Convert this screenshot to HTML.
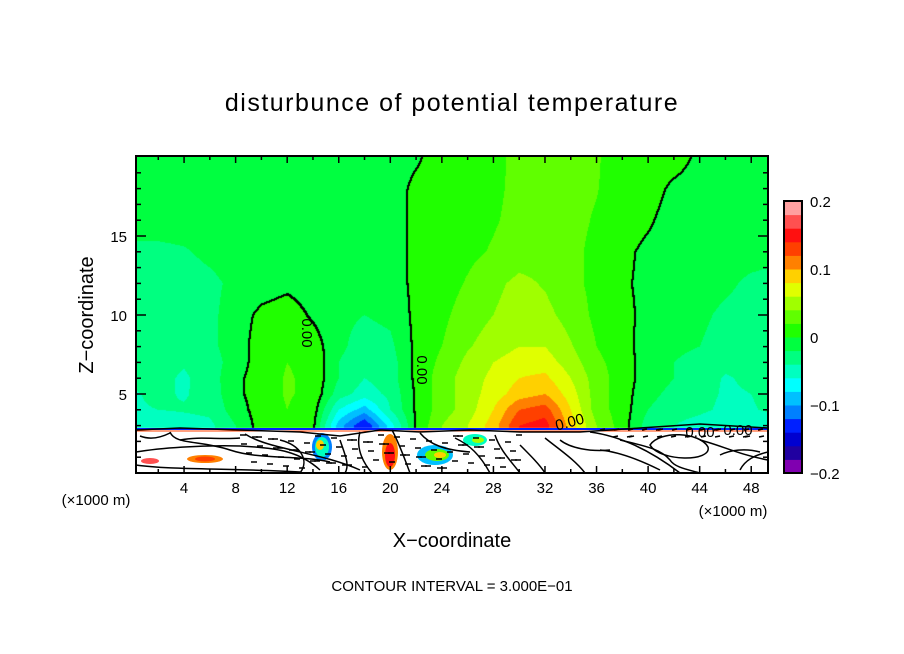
<!DOCTYPE html>
<html><head><meta charset="utf-8">
<style>
body{margin:0;background:#fff;}
#wrap{position:relative;width:904px;height:654px;overflow:hidden;background:#fff;font-family:"Liberation Sans","DejaVu Sans",sans-serif;}
canvas{position:absolute;left:0;top:0;}
svg{position:absolute;left:0;top:0;}
text{font-family:"Liberation Sans","DejaVu Sans",sans-serif;fill:#000;}
</style></head>
<body>
<div id="wrap">
<canvas id="cv" width="904" height="654"></canvas>
<svg id="sv" width="904" height="654"></svg>
</div>
<script>
// ---- data ----
const xCols = [0,2,4,6,8,10,12,14,16,18,20,22,24,26,28,30,32,34,36,38,40,42,44,46,48,50];
const zRows = [3,4,5,6,7,8,10,12,14,16,18,20];
const field = [
 [-6,-5.5,-5,-4.5,-2,1,1.5,0.5,-9,-14,-7,0.2,4,6,9,14,15,9,4,1,-3,-4,-5,-6,-6,-5],
 [-4.2,-4,-3.8,-3.5,-1,1,2,1,-6,-9,-4,0.3,3,5,8,12,13,8,3,1,-2,-3,-3.5,-4.5,-4.2,-3.5],
 [-4.2,-3.6,-4.2,-3.2,-0.5,1,2.2,1.5,-3,-5,-3.5,0.3,3,5,7,9,10,7,3,1,-1.5,-2.5,-3.2,-4.3,-4,-3.2],
 [-3.6,-3.4,-4.3,-3,-0.5,1,2.2,1.5,-2,-4,-3,0.5,3,5,6.5,8,8.5,6,3,1,-1,-2,-3,-4.2,-3.6,-3],
 [-3.5,-3.3,-3.8,-3,-1,1,2,1.5,-2,-3.5,-3,0.5,2.5,4.5,6,7,7,5,2.5,1,-1,-2,-2.8,-3.5,-3.3,-3],
 [-3,-3,-3.2,-2.5,-1,1,1.5,1,-1.5,-3,-2.5,0.5,2,3.8,5,6,6,4.2,2,0.8,-1,-1.5,-2,-3,-3,-3],
 [-3,-3,-3,-2.5,-1,0.5,1,-0.3,-1.5,-2,-1.5,0.5,1.5,3,4,5,4.6,3.2,1.5,0.5,-0.5,-1,-1.5,-2.5,-3,-3],
 [-3,-3,-3,-2.5,-1.5,-1,-0.5,-1,-1,-1.2,-1,0.5,1,2.2,3.5,4.5,3.8,2.5,1.5,0.3,-0.5,-1,-1,-1.5,-2.5,-3],
 [-2.5,-2.5,-2.2,-1.5,-1,-1,-1,-1,-1,-1,-1,0.5,1,1.5,2.2,3,3.2,2.5,1.5,0.5,-0.5,-1,-1,-1,-1,-1.2],
 [-1,-1,-1,-1,-1,-1,-1,-1,-1,-1,-1,0.5,1,1.2,1.8,2.6,3,2.6,1.8,1,0.3,-1,-1,-1,-1,-1],
 [-1,-1,-1,-1,-1,-1,-1,-1,-1,-1,-1,0.5,1,1.2,1.6,2.5,3,2.6,2.1,1,1,-0.5,-1,-1,-1,-1],
 [-1,-1,-1,-1,-1,-1,-1,-1,-1,-1,-1,-0.3,1,1,1.5,2.5,3,2.6,2.2,1,1,1,-0.5,-1,-1,-1]
];
const levelColors = ["#8000b0","#2000a0","#0000d0","#0020ff","#0080ff","#00c0ff","#00ffff","#00ffc0","#00ff80","#00ff40","#20ff00","#60ff00","#a0ff00","#e0ff00","#ffd000","#ff8000","#ff4000","#ff1010","#ff5050","#ffa0a0"];
const cbTicks = [0.2,0.1,0,-0.1,-0.2];
const cbTickLabels = ["0.2","0.1","0","\u22120.1","\u22120.2"];
const xTicks = [4,8,12,16,20,24,28,32,36,40,44,48];
const zTicks = [5,10,15];

// ---- scales ----
const X0=132.5, XS=12.89, PL=136, PR=768, PT=156, PB=473;
const sx = x => X0 + x*XS;
const sz = z => PB - z*15.8;
const ix = px => (px - X0)/XS;
const iz = py => (PB - py)/15.8;
const CB = {x:784,w:18,top:201,bot:473};
const cbY = v => CB.bot - (v+0.2)/0.4*(CB.bot-CB.top);

function sample(x,z){
  let zc=Math.max(zRows[0],Math.min(zRows[zRows.length-1],z));
  let xc=Math.max(0,Math.min(50,x));
  let j=0; while(j<zRows.length-2 && zc>zRows[j+1]) j++;
  let i=Math.min(xCols.length-2,Math.floor(xc/2));
  let tx=(xc-xCols[i])/(xCols[i+1]-xCols[i]);
  let tz=(zc-zRows[j])/(zRows[j+1]-zRows[j]);
  let a=field[j][i],b=field[j][i+1],c=field[j+1][i],d=field[j+1][i+1];
  return ((a*(1-tx)+b*tx)*(1-tz)+(c*(1-tx)+d*tx)*tz)/100;
}
function colorFor(v){
  let k=Math.floor((v+0.2)/0.02); k=Math.max(0,Math.min(19,k)); return levelColors[k];
}
// ---- draw fill ----
const cv=document.getElementById('cv'), ctx=cv.getContext('2d');
const terrY=428;
const W=PR-PL, H=terrY-PT;
const vals=[];
for(let py=0;py<H;py++){vals.push([]);for(let px=0;px<W;px++){vals[py].push(sample(ix(PL+px+0.5),iz(PT+py+0.5)));}}
for(let py=0;py<H;py++)for(let px=0;px<W;px++){ctx.fillStyle=colorFor(vals[py][px]);ctx.fillRect(PL+px,PT+py,1,1);}
// zero contour
ctx.fillStyle='#000';
for(let py=0;py<H-1;py++)for(let px=0;px<W-1;px++){
  const v=vals[py][px];
  if((v>=0)!==(vals[py][px+1]>=0)||(v>=0)!==(vals[py+1][px]>=0)) ctx.fillRect(PL+px,PT+py,2,2);
}

// ---- SVG overlay ----
const NS='http://www.w3.org/2000/svg', sv=document.getElementById('sv');
function el(tag,attrs,parent){const e=document.createElementNS(NS,tag);for(const k in attrs)e.setAttribute(k,attrs[k]);(parent||sv).appendChild(e);return e;}
function txt(s,attrs){const t=el('text',attrs);t.textContent=s;return t;}

// lower layer patches
const lower=el('g',{});


el('rect',{x:PL,y:terrY,width:W,height:PB-terrY,fill:'#fff'},lower);
const patches=[[150,461,9,3,'#ff5050'],[205,459,18,4,'#ff8000'],[205,459,10,2.5,'#ff4000'],[322,447,10,14,'#0080ff'],[322,447,7,10,'#00ffc0'],[320,445,4,5,'#ffd000'],[390,452,8,18,'#ff8000'],[390,455,5,12,'#ff1010'],[435,455,18,10,'#00c0ff'],[437,455,12,6,'#60ff00'],[440,455,6,3,'#ffd000'],[475,440,12,6,'#00ffc0'],[478,440,6,3,'#a0ff00']];
patches.forEach(p=>{el('ellipse',{cx:p[0],cy:p[1],rx:p[2],ry:p[3],fill:p[4]},lower);});
el('line',{x1:PL,y1:terrY+1,x2:PR,y2:terrY+1,stroke:'#0020ff','stroke-width':2},lower);
el('line',{x1:PL,y1:terrY+3,x2:PR,y2:terrY+3,stroke:'#ff4000','stroke-width':1},lower);
const lowPaths=[
 "M136 430 L180 428 L240 430 L300 432 L340 436 L380 430 L420 432 L470 430 L520 432 L580 432 L640 428 L700 424 L768 428",
 "M170 432 C175 445 200 440 230 450 C260 460 300 455 330 462",
 "M136 452 C160 448 200 445 240 446 C280 448 300 452 320 470",
 "M245 434 C270 450 320 452 360 470",
 "M360 432 C355 450 365 465 372 473",
 "M392 430 C400 445 405 460 410 473",
 "M545 438 C560 450 575 460 585 473",
 "M590 432 C620 436 650 450 680 473",
 "M650 445 C660 430 700 432 708 447 C712 462 660 462 650 445 Z",
 "M700 440 C720 445 740 455 768 460",
 "M600 450 C620 452 640 460 660 470",
 "M140 436 C150 440 160 438 170 433",
 "M740 470 C745 460 755 455 768 452",
 "M136 465 C170 470 230 468 300 472",
 "M180 440 C200 436 220 440 240 438",
 "M280 440 C300 445 310 460 300 473",
 "M340 440 C345 455 350 465 345 473",
 "M420 433 C430 445 445 450 470 452",
 "M495 435 C500 450 510 460 520 473",
 "M520 445 C530 455 540 465 545 473",
 "M560 440 C570 448 590 452 610 450",
 "M620 440 C640 445 660 448 670 460 C675 468 690 470 700 473",
 "M720 455 C730 450 745 448 760 452",
 "M455 438 C470 445 480 455 490 473"
];
lowPaths.forEach(d=>el('path',{d:d,fill:'none',stroke:'#000','stroke-width':1.5},lower));
for(let i=0;i<90;i++){const x=240+((i*37)%280), y=435+((i*13)%34);el('line',{x1:x,y1:y,x2:x+6,y2:y,stroke:'#000','stroke-width':1.5},lower);}
for(let i=0;i<28;i++){const x=600+((i*29)%160), y=430+((i*7)%14);el('line',{x1:x,y1:y,x2:x+5,y2:y-1,stroke:'#000','stroke-width':1.5},lower);}

// contour labels
const lab=[["0.00",306,333,90],["0.00",421,370,90],["0.00",570,423,-15],["0.00",700,433,0],["0.00",738,431,0]];
lab.forEach(l=>{const t=txt(l[0],{x:l[1],y:l[2],'font-size':15,'text-anchor':'middle','dominant-baseline':'middle',transform:`rotate(${l[3]} ${l[1]} ${l[2]})`});

});

// frame
const frame=el('rect',{x:PL,y:PT,width:W,height:PB-PT,fill:'none',stroke:'#000','stroke-width':2});


// x ticks
for(let x=2;x<=48;x+=2){const L=(x%4===0)?7:4;
 el('line',{x1:sx(x),y1:PB,x2:sx(x),y2:PB-L,stroke:'#000','stroke-width':1.5});
 el('line',{x1:sx(x),y1:PT,x2:sx(x),y2:PT+L,stroke:'#000','stroke-width':1.5});}
xTicks.forEach(x=>{const t=txt(String(x),{x:sx(x),y:493,'font-size':15,'text-anchor':'middle'});

});
for(let z=1;z<=19;z++){const L=(z%5===0)?10:5;
 el('line',{x1:PL,y1:sz(z),x2:PL+L,y2:sz(z),stroke:'#000','stroke-width':1.5});
 el('line',{x1:PR,y1:sz(z),x2:PR-L,y2:sz(z),stroke:'#000','stroke-width':1.5});}
zTicks.forEach(z=>{const t=txt(String(z),{x:127,y:sz(z)+6,'font-size':15,'text-anchor':'end'});

});

// colorbar
const cb=el('g',{});


levelColors.forEach((c,k)=>{const v=-0.2+k*0.02;const r=el('rect',{x:CB.x,y:cbY(v+0.02),width:CB.w,height:cbY(v)-cbY(v+0.02)+0.5,fill:c},cb);

});
el('rect',{x:CB.x,y:CB.top,width:CB.w,height:CB.bot-CB.top,fill:'none',stroke:'#000','stroke-width':2},cb);
cbTicks.forEach((v,k)=>{const t=txt(cbTickLabels[k],{x:810,y:cbY(v)+6,'font-size':15});

});

// titles
let t=txt('disturbunce of potential temperature',{x:452,y:111,'font-size':25,'text-anchor':'middle','letter-spacing':'1.5'});


t=txt('Z\u2212coordinate',{x:0,y:0,'font-size':20,'text-anchor':'middle',transform:'translate(93 315) rotate(-90)'});


t=txt('X\u2212coordinate',{x:452,y:547,'font-size':20,'text-anchor':'middle'});


t=txt('(\u00d71000 m)',{x:96,y:505,'font-size':15,'text-anchor':'middle'});


t=txt('(\u00d71000 m)',{x:733,y:516,'font-size':15,'text-anchor':'middle'});


t=txt('CONTOUR INTERVAL = 3.000E\u221201',{x:452,y:591,'font-size':15,'text-anchor':'middle'});


</script>
</body></html>
